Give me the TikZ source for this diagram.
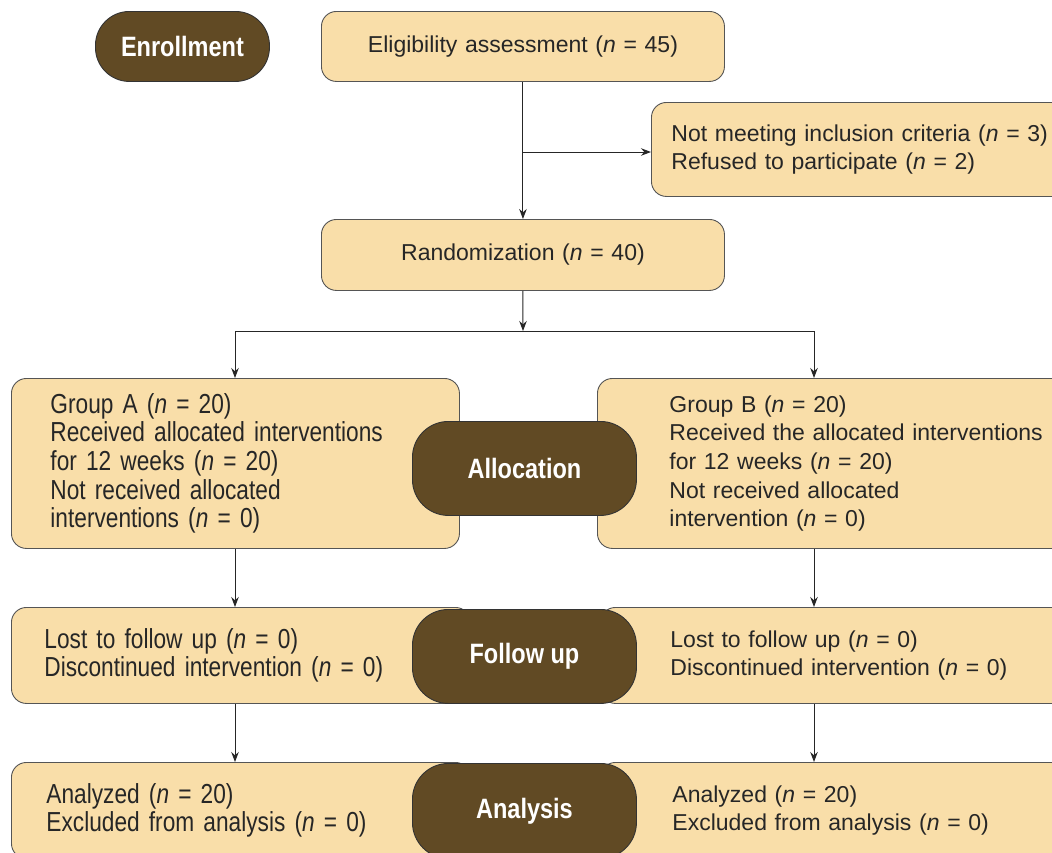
\documentclass[tikz,border=0pt]{standalone}
\usepackage{fontspec}
\setmainfont{Liberation Sans}
\newfontfamily\narrowfont{Liberation Sans}[FakeStretch=0.825]
\newfontfamily\narrowbold{Liberation Sans Bold}[FakeStretch=0.84]
\newcommand{\narrowsetup}{\narrowfont\fontsize{27.5}{28.7}\selectfont\spaceskip=5pt plus 1pt minus 1pt\relax}
\usetikzlibrary{arrows.meta}
\definecolor{beige}{HTML}{F9DEA9}
\definecolor{darkbrown}{HTML}{614A24}
\definecolor{edge}{HTML}{555555}
\begin{document}
\begin{tikzpicture}[x=1pt,y=-1pt,
  box/.style={draw=edge,line width=0.9pt,fill=beige,rounded corners=15pt,anchor=north west,
    align=left,inner ysep=0pt,font=\fontsize{23}{28.7}\selectfont,text=black!85},
  nbox/.style={box,font=\narrowsetup},
  pill/.style={draw=black!80,line width=0.9pt,fill=darkbrown,rounded corners=36pt,anchor=north west,
    text=white,font=\narrowbold\fontsize{28}{30}\selectfont,inner sep=0pt},
  arr/.style={draw=black!85,line width=1pt,-{Stealth[length=10pt,width=7.5pt]}},
  ln/.style={draw=black!85,line width=1pt}]
\useasboundingbox (0,0) rectangle (1052,852);

% boxes
\node[box,minimum width=403pt,minimum height=70pt,align=center,text width=380pt,inner xsep=11.5pt] (elig) at (321,11) {\raisebox{-2.5pt}{Eligibility assessment (\textit{n} = 45)}};
\node[box,minimum width=420pt,minimum height=94pt,text width=380pt,inner xsep=18pt] (excl) at (651,102)
  {Not meeting inclusion criteria (\textit{n} = 3)\\Refused to participate (\textit{n} = 2)};
\node[box,minimum width=403pt,minimum height=71pt,align=center,text width=380pt,inner xsep=11.5pt] (rand) at (321,219) {\raisebox{-1.5pt}{Randomization (\textit{n} = 40)}};

\node[nbox,minimum width=448pt,minimum height=170pt,text width=370pt,inner xsep=39pt] (grpA) at (11,378)
  {Group A (\textit{n} = 20)\\Received allocated interventions\\for 12 weeks (\textit{n} = 20)\\Not received allocated\\interventions (\textit{n} = 0)};
\node[box,minimum width=480pt,minimum height=170pt,text width=400pt,inner xsep=72pt] (grpB) at (597,378)
  {Group B (\textit{n} = 20)\\Received the allocated interventions\\for 12 weeks (\textit{n} = 20)\\Not received allocated\\intervention (\textit{n} = 0)};

\node[nbox,minimum width=459pt,minimum height=96pt,text width=393pt,inner xsep=33pt] (fuA) at (11,607)
  {Lost to follow up (\textit{n} = 0)\\Discontinued intervention (\textit{n} = 0)};
\node[box,minimum width=480pt,minimum height=96pt,text width=360pt,inner xsep=70pt] (fuB) at (600,607)
  {Lost to follow up (\textit{n} = 0)\\Discontinued intervention (\textit{n} = 0)};

\node[nbox,minimum width=459pt,minimum height=96pt,text width=389pt,inner xsep=35pt] (anA) at (11,762)
  {Analyzed (\textit{n} = 20)\\Excluded from analysis (\textit{n} = 0)};
\node[box,minimum width=480pt,minimum height=96pt,text width=360pt,inner xsep=72pt] (anB) at (600,762)
  {Analyzed (\textit{n} = 20)\\Excluded from analysis (\textit{n} = 0)};

% pills
\node[pill,minimum width=174pt,minimum height=70pt,rounded corners=34pt] (enr) at (95,11) {Enrollment};
\node[pill,minimum width=224pt,minimum height=94pt] (alloc) at (412,421) {Allocation};
\node[pill,minimum width=224pt,minimum height=94pt] (fu) at (412,609) {Follow up};
\node[pill,minimum width=224pt,minimum height=95pt] (an) at (412,763) {Analysis};

% connectors
\coordinate (b1) at (523,152);
\coordinate (split) at (523,331);
\coordinate (sA) at (235,331);
\coordinate (sB) at (814,331);
\draw[arr] (elig.south) -- (rand.north);
\draw[arr] (b1) -- (b1 -| excl.west);
\draw[arr] (rand.south) -- (split);
\draw[ln] (sA) -- (sB);
\draw[arr] (sA) -- (sA |- grpA.north);
\draw[arr] (sB) -- (sB |- grpB.north);
\draw[arr] (sA |- grpA.south) -- (sA |- fuA.north);
\draw[arr] (sB |- grpB.south) -- (sB |- fuB.north);
\draw[arr] (sA |- fuA.south) -- (sA |- anA.north);
\draw[arr] (sB |- fuB.south) -- (sB |- anB.north);
\end{tikzpicture}
\end{document}
